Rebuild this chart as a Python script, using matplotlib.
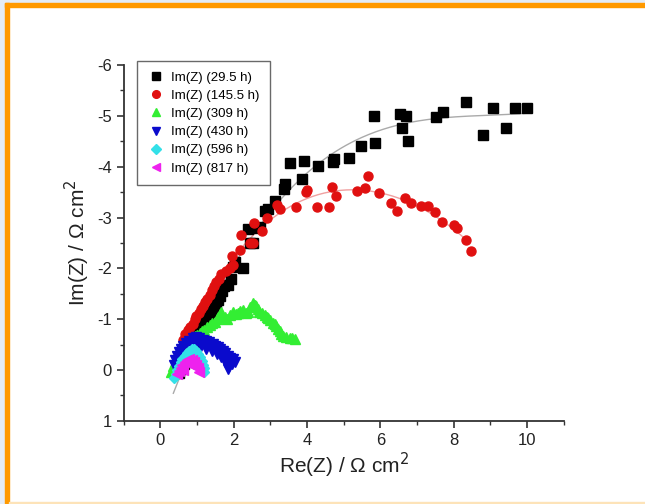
import numpy as np
import matplotlib.pyplot as plt
from matplotlib.patches import Rectangle
from matplotlib.ticker import MultipleLocator

plt.rcParams['font.family'] = ['Liberation Sans', 'DejaVu Sans']
plt.rcParams['axes.unicode_minus'] = False

# Nyquist data (Re(Z), Im(Z) in Ohm cm2)
re_29 = [0.50, 0.57, 0.63, 0.70, 0.76, 0.82, 0.88, 0.93, 0.97, 1.02, 1.07, 1.12,
         1.16, 1.20, 1.25, 1.30, 1.38, 1.45, 1.52, 1.57, 1.61, 1.68, 1.73, 1.84,
         1.93, 1.98, 2.03, 2.26, 2.45, 2.52, 2.40, 2.59, 2.72, 2.86, 2.93, 3.12,
         3.38, 3.40, 3.54, 3.86, 3.91, 4.31, 4.70, 4.74, 5.14, 5.46, 5.82, 5.86,
         6.53, 6.60, 6.71, 6.76, 7.51, 7.71, 8.33, 8.81, 9.08, 9.42, 9.68, 10.01]
im_29 = [0.05, -0.02, -0.12, -0.22, -0.30, -0.40, -0.48, -0.57, -0.66, -0.72, -0.79, -0.86,
         -0.92, -0.97, -1.03, -1.09, -1.15, -1.22, -1.31, -1.38, -1.45, -1.55, -1.65, -1.67,
         -1.80, -2.02, -2.12, -2.00, -2.49, -2.49, -2.78, -2.80, -2.82, -3.13, -3.17, -3.33,
         -3.56, -3.65, -4.07, -3.76, -4.11, -4.02, -4.09, -4.15, -4.17, -4.40, -5.00, -4.47,
         -5.03, -4.76, -5.00, -4.51, -4.98, -5.07, -5.27, -4.62, -5.15, -4.77, -5.15, -5.16]

re_145 = [0.62, 0.68, 0.74, 0.80, 0.88, 0.93, 0.98, 1.05, 1.10, 1.16, 1.22, 1.28,
          1.34, 1.40, 1.45, 1.52, 1.60, 1.66, 1.80, 1.89, 1.97, 1.96, 2.16, 2.19,
          2.45, 2.52, 2.55, 2.78, 2.91, 3.19, 3.25, 3.71, 3.97, 3.99, 4.28, 4.60,
          4.69, 4.80, 5.37, 5.59, 5.66, 5.96, 6.30, 6.46, 6.68, 6.83, 7.10, 7.30,
          7.49, 7.67, 8.01, 8.08, 8.33, 8.46]
im_145 = [-0.60, -0.70, -0.78, -0.85, -0.90, -1.00, -1.06, -1.12, -1.20, -1.25, -1.33, -1.40,
          -1.48, -1.58, -1.66, -1.74, -1.80, -1.89, -1.95, -2.00, -2.07, -2.24, -2.36, -2.66,
          -2.49, -2.50, -2.89, -2.74, -2.99, -3.25, -3.16, -3.20, -3.51, -3.55, -3.21, -3.21,
          -3.61, -3.42, -3.52, -3.58, -3.81, -3.48, -3.28, -3.12, -3.38, -3.28, -3.23, -3.23,
          -3.10, -2.91, -2.85, -2.79, -2.55, -2.35]

re_309 = [0.29, 0.34, 0.40, 0.46, 0.52, 0.59, 0.66, 0.72, 0.79, 0.86, 0.93, 1.00,
          1.07, 1.14, 1.20, 1.27, 1.34, 1.41, 1.48, 1.53, 1.57, 1.62, 1.66, 1.75,
          1.82, 1.89, 1.98, 2.05, 2.11, 2.18, 2.25, 2.32, 2.39, 2.45, 2.52, 2.57,
          2.61, 2.66, 2.70, 2.77, 2.84, 2.90, 2.93, 3.00, 3.07, 3.12, 3.16, 3.21,
          3.25, 3.30, 3.34, 3.43, 3.52, 3.60, 3.66]
im_309 = [0.03, -0.07, -0.15, -0.22, -0.33, -0.40, -0.46, -0.52, -0.56, -0.62, -0.66, -0.69,
          -0.72, -0.76, -0.79, -0.84, -0.89, -0.92, -0.95, -1.00, -1.05, -1.10, -1.15, -1.05,
          -1.00, -1.08, -1.15, -1.10, -1.12, -1.16, -1.18, -1.13, -1.15, -1.24, -1.31, -1.28,
          -1.25, -1.20, -1.15, -1.12, -1.08, -1.05, -1.02, -0.98, -0.92, -0.90, -0.86, -0.80,
          -0.76, -0.70, -0.66, -0.64, -0.63, -0.62, -0.61]

re_430 = [0.38, 0.40, 0.45, 0.50, 0.56, 0.62, 0.70, 0.79, 0.88, 0.97, 1.05, 1.15,
          1.25, 1.33, 1.43, 1.50, 1.57, 1.63, 1.70, 1.77, 1.84, 1.90, 1.98, 2.02,
          1.95, 1.88, 1.84, 1.80, 0.95, 1.10, 1.25, 1.40, 1.55, 1.65, 1.75, 0.80]
im_430 = [-0.10, -0.20, -0.28, -0.35, -0.42, -0.48, -0.54, -0.58, -0.62, -0.64, -0.62, -0.60,
          -0.58, -0.55, -0.52, -0.48, -0.45, -0.42, -0.38, -0.33, -0.28, -0.23, -0.22, -0.16,
          -0.12, -0.08, -0.02, -0.18, -0.52, -0.47, -0.42, -0.38, -0.32, -0.25, -0.15, -0.45]

re_596 = [0.38, 0.42, 0.46, 0.50, 0.55, 0.60, 0.66, 0.72, 0.78, 0.85, 0.92, 0.98,
          1.03, 1.08, 1.12, 1.16, 1.19, 1.20, 1.05, 0.95]
im_596 = [0.15, 0.08, 0.00, -0.08, -0.15, -0.22, -0.28, -0.33, -0.38, -0.41, -0.42, -0.38,
          -0.32, -0.25, -0.18, -0.10, -0.03, 0.03, -0.15, -0.25]

re_817 = [0.45, 0.50, 0.55, 0.60, 0.66, 0.72, 0.78, 0.85, 0.92, 0.98, 1.03, 1.06,
          0.95, 0.88, 0.80, 0.62]
im_817 = [0.08, 0.02, -0.04, -0.10, -0.15, -0.19, -0.21, -0.20, -0.15, -0.10, -0.04, 0.03,
          -0.05, -0.10, -0.12, 0.00]

series = [
    (re_29, im_29, 's', '#000000', 'Im(Z) (29.5 h)'),
    (re_145, im_145, 'o', '#e01010', 'Im(Z) (145.5 h)'),
    (re_309, im_309, '^', '#33ee33', 'Im(Z) (309 h)'),
    (re_430, im_430, 'v', '#0a0acc', 'Im(Z) (430 h)'),
    (re_596, im_596, 'D', '#33e0e8', 'Im(Z) (596 h)'),
    (re_817, im_817, '<', '#ee22ee', 'Im(Z) (817 h)'),
]

fig = plt.figure(figsize=(6.45, 5.04), dpi=100)
ax = fig.add_axes([0.192, 0.165, 0.682, 0.706])

# fitted curves through the first two spectra
xf = np.linspace(0.35, 10.0, 200)
pf = np.polyfit(re_29, im_29, 3)
ax.plot(xf, np.polyval(pf, xf), color='#aaaaaa', lw=1.0, zorder=1)
xr = np.linspace(0.6, 8.35, 200)
pr = np.polyfit(re_145, im_145, 4)
ax.plot(xr, np.polyval(pr, xr), color='#f0a0a0', lw=1.0, zorder=1)

for x, y, m, c, lab in series:
    ms = 6.5 if m in ('s', 'o') else 7
    if m == 'D':
        ms = 5.5
    ax.plot(x, y, m, color=c, ms=ms, mec=c, ls='none', label=lab, zorder=2)

ax.set_xlim(-1, 11)
ax.set_ylim(1, -6)
ax.xaxis.set_major_locator(MultipleLocator(2))
ax.xaxis.set_minor_locator(MultipleLocator(1))
ax.yaxis.set_major_locator(MultipleLocator(1))
ax.yaxis.set_minor_locator(MultipleLocator(0.5))
ax.spines['top'].set_visible(False)
ax.spines['right'].set_visible(False)
for s in ('left', 'bottom'):
    ax.spines[s].set_linewidth(1.3)
    ax.spines[s].set_color('#333333')
ax.tick_params(which='major', direction='out', length=5, width=1.2, labelsize=12,
               colors='#333333', labelcolor='#222222')
ax.tick_params(which='minor', direction='out', length=3, width=1.0, colors='#333333')

ax.set_xlabel('Re(Z) / Ω cm$^2$', fontsize=15, color='#222222', labelpad=2)
ax.set_ylabel('Im(Z) / Ω cm$^2$', fontsize=15, color='#222222', labelpad=4)

leg = ax.legend(loc='upper left', bbox_to_anchor=(0.015, 1.03), fontsize=9.5,
                frameon=True, fancybox=False, edgecolor='#444444', borderpad=0.8,
                handletextpad=0.6, labelspacing=0.45, handlelength=1.2, markerscale=0.85)
leg.get_frame().set_linewidth(1.0)

# orange frame around the figure
fig.patches.append(Rectangle((0, 0), 5 / 645, 1, transform=fig.transFigure,
                             color='#e4ecf6', zorder=0))
fig.patches.append(Rectangle((0, 1 - 3 / 504), 1, 3 / 504, transform=fig.transFigure,
                             color='#e4ecf6', zorder=0))
fig.patches.append(Rectangle((5 / 645, 0), 4 / 645, 1 - 3 / 504, transform=fig.transFigure,
                             color='#ff9900', zorder=0))
fig.patches.append(Rectangle((5 / 645, 1 - 7 / 504), 1, 4 / 504, transform=fig.transFigure,
                             color='#ff9900', zorder=0))
fig.patches.append(Rectangle((9 / 645, 0), 1, 2 / 504, transform=fig.transFigure,
                             color='#fde3b8', zorder=0))

fig.savefig('out.png', dpi=100)
